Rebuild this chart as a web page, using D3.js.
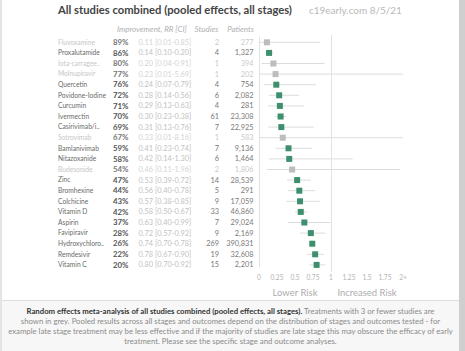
<!DOCTYPE html>
<html>
<head>
<meta charset="utf-8">
<script src="https://cdn.jsdelivr.net/npm/d3@7"></script>
<style>
  body { margin: 0; background: #fff; }
  svg { display: block; font-family: Lato, 'Open Sans', sans-serif; }
</style>
</head>
<body>
<div id="chart"></div>
<script>
var names = ['Fluvoxamine', 'Proxalutamide', 'Iota-carragee..', 'Molnupiravir', 'Quercetin',
  'Povidone-Iodine', 'Curcumin', 'Ivermectin', 'Casirivimab/i..', 'Sotrovimab', 'Bamlanivimab',
  'Nitazoxanide', 'Budesonide', 'Zinc', 'Bromhexine', 'Colchicine', 'Vitamin D', 'Aspirin',
  'Favipiravir', 'Hydroxychloro..', 'Remdesivir', 'Vitamin C'];
var rr = [0.11, 0.14, 0.20, 0.23, 0.24, 0.28, 0.29, 0.30, 0.31, 0.33, 0.41, 0.42, 0.46, 0.53,
  0.56, 0.57, 0.58, 0.63, 0.72, 0.74, 0.78, 0.80];
var ciLow = [0.01, 0.10, 0.04, 0.01, 0.07, 0.14, 0.13, 0.23, 0.13, 0.01, 0.23, 0.14, 0.11, 0.39,
  0.40, 0.38, 0.50, 0.40, 0.57, 0.70, 0.67, 0.70];
var ciHigh = [0.85, 0.20, 0.91, 5.69, 0.79, 0.56, 0.63, 0.38, 0.76, 8.16, 0.74, 1.30, 1.96, 0.72,
  0.78, 0.85, 0.67, 0.99, 0.92, 0.78, 0.90, 0.92];
var studies = [2, 4, 1, 1, 4, 6, 4, 61, 7, 1, 7, 6, 2, 14, 5, 9, 33, 7, 9, 269, 19, 15];
var patients = [277, 1327, 394, 202, 754, 2082, 281, 23308, 22925, 583, 9136, 1464, 1806, 28539,
  291, 17059, 46860, 29024, 2169, 390831, 32608, 2201];
var tickValues = [0, 0.25, 0.5, 0.75, 1, 1.25, 1.5, 1.75, 2];
var tickLabels = ['0', '0.25', '0.5', '0.75', '1', '1.25', '1.5', '1.75', '2+'];

var width = 465, height = 351;

var rows = names.map(function (n, i) {
  return { name: n, rr: rr[i], lo: ciLow[i], hi: ciHigh[i], studies: studies[i],
    patients: patients[i], grey: studies[i] <= 3 };
});

// shrink/grow a text's font so it spans the width measured on the reference
function fit(sel, w) {
  var len = sel.node().getComputedTextLength();
  var fs = +sel.attr('font-size');
  return fs * w / len;
}

var svg = d3.select('#chart').append('svg')
  .attr('width', width).attr('height', height);

// frame: thin left edge, grey bar on right, footer panel
svg.append('rect').attr('x', 0).attr('y', 0).attr('width', 2).attr('height', height).attr('fill', '#e4e4e4');
svg.append('rect').attr('x', 459).attr('y', 0).attr('width', 6).attr('height', height).attr('fill', '#cfcfcf');
svg.append('rect').attr('x', 2).attr('y', 300).attr('width', 457).attr('height', 51).attr('fill', '#f7f7f7');
svg.append('line').attr('x1', 2).attr('x2', 459).attr('y1', 300.5).attr('y2', 300.5).attr('stroke', '#dedede');

var title = svg.append('text').attr('x', 58).attr('y', 13.5)
  .attr('font-size', 13).attr('font-weight', 700).attr('fill', '#444')
  .text('All studies combined (pooled effects, all stages)');
title.attr('font-size', fit(title, 234));
var sub = svg.append('text').attr('x', 309).attr('y', 13.5)
  .attr('font-size', 12).attr('fill', '#b8b8b8')
  .text('c19early.com 8/5/21');
sub.attr('font-size', fit(sub, 93));

var head = svg.append('g').attr('font-style', 'italic').attr('fill', '#b0b0b0');
var h1 = head.append('text').attr('x', 117).attr('y', 31.5).attr('font-size', 7).text('Improvement, RR [CI]');
var hs = fit(h1, 70);
h1.attr('font-size', hs);
head.append('text').attr('x', 218.5).attr('y', 31.5).attr('font-size', hs).attr('text-anchor', 'end').text('Studies');
head.append('text').attr('x', 254).attr('y', 31.5).attr('font-size', hs).attr('text-anchor', 'end').text('Patients');

var x = d3.scaleLinear().domain([0, 2]).range([259, 403]).clamp(true);
var y = d3.scaleBand().domain(names).range([37, 37 + names.length * 10.6]);

var fmt = d3.format(',');
var g = svg.selectAll('g.row').data(rows).join('g').attr('class', 'row')
  .attr('transform', function (d) { return 'translate(0,' + (y(d.name) + y.bandwidth() / 2) + ')'; });

var nameT = g.append('text').attr('x', 58).attr('dy', '0.35em').attr('font-size', 7)
  .attr('fill', function (d) { return d.grey ? '#c6c6c6' : '#6a6a6a'; })
  .text(function (d) { return d.name; });
nameT.attr('font-size', fit(nameT.filter(function (d) { return d.name === 'Povidone-Iodine'; }), 48));

var pctT = g.append('text').attr('x', 113).attr('dy', '0.35em').attr('font-size', 7).attr('font-weight', 700)
  .attr('fill', function (d) { return d.grey ? '#777' : '#555'; })
  .text(function (d) { return Math.round((1 - d.rr) * 100) + '%'; });
pctT.attr('font-size', fit(pctT.filter(function (d, i) { return i === 0; }), 15.5));

var ciT = g.append('text').attr('x', 138.5).attr('dy', '0.35em').attr('font-size', 7)
  .attr('fill', function (d) { return d.grey ? '#d4d4d4' : '#c2c2c2'; })
  .text(function (d) { return d.rr.toFixed(2) + ' [' + d.lo.toFixed(2) + '-' + d.hi.toFixed(2) + ']'; });
var cs = fit(ciT.filter(function (d, i) { return i === 0; }), 53);
ciT.attr('font-size', cs);

g.append('text').attr('x', 219).attr('dy', '0.35em').attr('text-anchor', 'end')
  .attr('font-size', cs)
  .attr('fill', function (d) { return d.grey ? '#cacaca' : '#7a7a7a'; })
  .text(function (d) { return d.studies; });
g.append('text').attr('x', 253.5).attr('dy', '0.35em').attr('text-anchor', 'end')
  .attr('font-size', cs)
  .attr('fill', function (d) { return d.grey ? '#cacaca' : '#7a7a7a'; })
  .text(function (d) { return fmt(d.patients); });

// reference lines at 0 and 1
svg.append('line').attr('x1', x(0) + 0.5).attr('x2', x(0) + 0.5).attr('y1', 37).attr('y2', 267)
  .attr('stroke', '#e2e2e2');
svg.append('line').attr('x1', x(1) + 0.5).attr('x2', x(1) + 0.5).attr('y1', 35).attr('y2', 272)
  .attr('stroke', '#e2e2e2');

g.append('line')
  .attr('x1', function (d) { return x(d.lo); })
  .attr('x2', function (d) { return x(d.hi); })
  .attr('stroke', '#dcdcdc').attr('stroke-width', 1);
g.append('rect')
  .attr('x', function (d) { return x(d.rr) - 3; }).attr('y', -3)
  .attr('width', 6).attr('height', 6)
  .attr('fill', function (d) { return d.grey ? '#bdbdbd' : '#3d8f6d'; });

var ticks = svg.append('g').attr('font-size', 6.6).attr('fill', '#b4b4b4')
  .attr('text-anchor', 'middle');
ticks.selectAll('text').data(tickValues).join('text')
  .attr('x', function (d) { return x(d); }).attr('y', 279.5)
  .text(function (d, i) { return tickLabels[i]; });

var lr = svg.append('text').attr('x', (x(0) + x(1)) / 2).attr('y', 295.5).attr('text-anchor', 'middle')
  .attr('font-size', 10).attr('fill', '#adadad').text('Lower Risk');
var rs = fit(lr, 45);
lr.attr('font-size', rs);
svg.append('text').attr('x', (x(1) + x(2)) / 2).attr('y', 295.5).attr('text-anchor', 'middle')
  .attr('font-size', rs).attr('fill', '#adadad').text('Increased Risk');

// footer note
var note = svg.append('text').attr('text-anchor', 'middle').attr('font-size', 8).attr('fill', '#8a8a8a');
var l1 = note.append('tspan').attr('x', 230.5).attr('y', 313.5);
l1.append('tspan').attr('font-weight', 700).attr('fill', '#333')
  .text('Random effects meta-analysis of all studies combined (pooled effects, all stages).');
l1.append('tspan').text(' Treatments with 3 or fewer studies are');
note.append('tspan').attr('x', 230.5).attr('y', 323.5)
  .text('shown in grey. Pooled results across all stages and outcomes depend on the distribution of stages and outcomes tested - for');
var l3 = note.append('tspan').attr('x', 230.5).attr('y', 333.5)
  .text('example late stage treatment may be less effective and if the majority of studies are late stage this may obscure the efficacy of early');
note.append('tspan').attr('x', 230.5).attr('y', 343.5)
  .text('treatment. Please see the specific stage and outcome analyses.');
note.attr('font-size', 8 * 445 / l3.node().getComputedTextLength());
</script>
</body>
</html>
